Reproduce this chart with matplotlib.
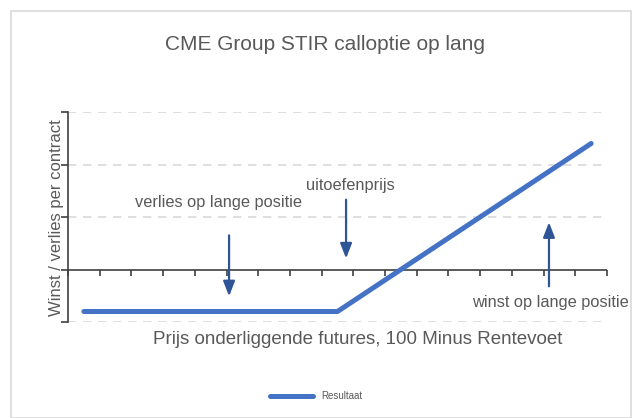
""" Payoff diagram of a long CME Group STIR call option """

import matplotlib
matplotlib.use('Agg')
import matplotlib.pyplot as plt
from matplotlib.patches import Rectangle

DPI = 100
W, H = 638, 418

# 17 price points on the category axis, profit/loss per contract
prices = list(range(17))
resultaat = [-0.8, -0.8, -0.8, -0.8, -0.8, -0.8, -0.8, -0.8, -0.8,
             -0.4, 0.0, 0.4, 0.8, 1.2, 1.6, 2.0, 2.4]
y_gridlines = [-1, 1, 2, 3]

TEXT = '#595959'
BLUE = '#4472C4'
ARROW = '#2F5597'
GRID = '#D9D9D9'

plt.rcParams['font.family'] = ['Liberation Sans', 'DejaVu Sans']


def px(x, y):
    """ pixel position -> figure fraction """
    return x / W, 1 - y / H


fig = plt.figure(figsize=(W / DPI, H / DPI), dpi=DPI)
fig.patches.append(Rectangle((11 / W, 0), 620 / W, 1 - 11 / H, transform=fig.transFigure,
                             fill=False, edgecolor=GRID, linewidth=1.2))

left, top = px(68, 112)
right, bottom = px(607, 322)
ax = fig.add_axes([left, bottom, right - left, top - bottom])

ax.set_xlim(-0.5, 16.5)
ax.set_ylim(-1, 3)

for g in y_gridlines:
    ax.axhline(g, color=GRID, linestyle=(0, (5, 4)), linewidth=1.2, zorder=0)
ax.axhline(0, color='#404040', linewidth=1.2, zorder=1)
for xt in [i - 0.5 for i in prices] + [16.5]:
    ax.plot([xt, xt], [0, -0.12], color='#404040', linewidth=1.2, zorder=1,
            clip_on=False, solid_capstyle='butt')

ax.plot(prices, resultaat, color=BLUE, linewidth=3.6, solid_capstyle='round',
        zorder=3, label='Resultaat')

for side in ('top', 'right', 'bottom'):
    ax.spines[side].set_visible(False)
ax.spines['left'].set_color('#404040')
ax.spines['left'].set_linewidth(1.2)
ax.set_xticks([])
ax.set_yticks([-1, 0, 1, 2, 3])
ax.set_yticklabels([])
ax.tick_params(axis='y', length=5, width=1.2, color='#404040', direction='out')
ax.patch.set_alpha(0)

arrow = dict(arrowstyle='-|>,head_length=0.9,head_width=0.35', color=ARROW,
             linewidth=1.6, shrinkA=0, shrinkB=0)
ax.annotate('', xy=(4.58, -0.51), xytext=(4.58, 0.65), arrowprops=arrow)
ax.annotate('', xy=(8.27, 0.21), xytext=(8.27, 1.33), arrowprops=arrow)
ax.annotate('', xy=(14.67, 0.9), xytext=(14.67, -0.32), arrowprops=arrow)

ax.text(8.4, 1.6, 'uitoefenprijs', ha='center', va='center', fontsize=11.8, color=TEXT)
ax.text(4.26, 1.28, 'verlies op lange positie', ha='center', va='center',
        fontsize=11.8, color=TEXT)
ax.text(14.7, -0.63, 'winst op lange positie', ha='center', va='center',
        fontsize=11.8, color=TEXT)

fig.text(*px(325, 44), 'CME Group STIR calloptie op lang', ha='center', va='center',
         fontsize=15, color=TEXT)
fig.text(*px(358, 339), 'Prijs onderliggende futures, 100 Minus Rentevoet',
         ha='center', va='center', fontsize=13.5, color=TEXT)
fig.text(*px(57, 218), 'Winst / verlies per contract', ha='center', va='center',
         rotation=90, fontsize=12, color=TEXT)

fig.legend(loc='center', bbox_to_anchor=px(316, 396), frameon=False, fontsize=7,
           handlelength=4.5, labelcolor=TEXT)

fig.savefig('out.png', dpi=DPI)
